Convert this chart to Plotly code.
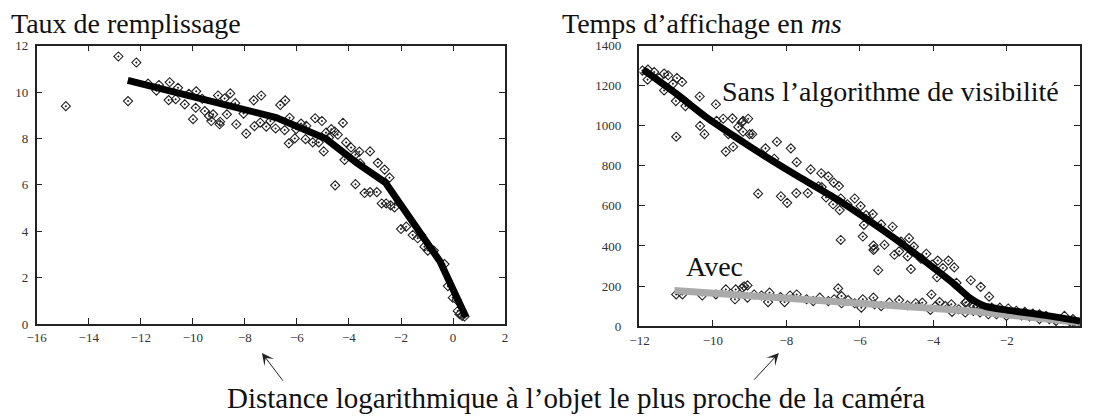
import plotly.graph_objects as go

# ---- Left chart: Taux de remplissage ----
fill_x = [-14.88, -12.86, -12.17, -12.49, -11.72, -11.40, -11.30, -10.89, -10.93, -10.66,
          -10.57, -10.31, -10.15, -9.99, -9.89, -9.87, -9.64, -9.54, -9.38, -9.29,
          -9.22, -9.03, -8.97, -8.95, -8.78, -8.69, -8.56, -8.37, -8.33, -8.05,
          -7.95, -7.66, -7.63, -7.41, -7.37, -7.18, -7.02, -6.82, -6.64, -6.45,
          -6.47, -6.31, -6.28, -6.08, -6.03, -5.84, -5.64, -5.67, -5.39, -5.30,
          -5.16, -5.04, -4.97, -4.88, -4.77, -4.68, -4.55, -4.43, -4.23, -4.53,
          -4.11, -4.17, -3.92, -3.75, -3.60, -3.57, -3.75, -3.40, -3.19, -3.19,
          -2.93, -2.89, -2.63, -2.44, -2.74, -2.57, -2.40, -2.25, -2.00, -1.80,
          -1.55, -1.23, -1.36, -1.10, -0.97, -0.74, -0.33, -0.20, -0.01, 0.14,
          0.18, 0.25, 0.35, 0.44]
fill_y = [9.39, 11.53, 11.27, 9.61, 10.36, 10.06, 10.30, 10.42, 9.65, 9.69,
          10.18, 9.47, 9.92, 8.83, 9.32, 10.03, 9.71, 9.18, 8.97, 8.75,
          9.04, 9.85, 8.61, 8.72, 9.72, 9.04, 9.94, 9.52, 8.61, 9.07,
          8.21, 9.64, 8.53, 8.68, 9.85, 8.51, 8.75, 8.43, 9.44, 9.64,
          8.36, 7.79, 8.89, 8.00, 8.40, 8.64, 8.54, 7.97, 7.83, 8.87,
          7.83, 8.75, 7.44, 8.25, 8.04, 8.40, 8.30, 8.16, 8.67, 5.98,
          7.83, 7.08, 7.61, 7.30, 7.43, 6.93, 6.03, 5.65, 7.44, 5.69,
          5.69, 6.95, 6.66, 6.31, 5.20, 5.20, 5.12, 5.03, 4.10, 4.20,
          3.84, 3.84, 3.70, 3.34, 3.17, 3.17, 2.59, 1.64, 1.14, 1.04,
          0.57, 0.43, 0.36, 0.33]
fill_line_x = [-12.5, -6.8, -4.9, -3.7, -2.6, -0.5, 0.5]
fill_line_y = [10.5, 8.9, 8.0, 6.95, 6.1, 2.7, 0.3]

# ---- Right chart: Temps d'affichage ----
sans_x = [-11.92, -11.77, -11.78, -11.60, -11.47, -11.33, -11.22, -11.33, -11.09, -10.98,
          -10.84, -11.01, -10.75, -11.00, -10.36, -10.35, -10.23, -9.92, -9.90, -9.72,
          -9.58, -9.65, -9.47, -9.45, -9.31, -9.22, -9.18, -9.18, -9.04, -9.00,
          -8.93, -8.57, -8.33, -8.26, -7.88, -7.72, -7.34, -7.05, -7.04, -6.86,
          -6.71, -6.57,
          -8.77, -8.15, -7.98, -7.73, -7.42, -7.13, -6.92, -6.73, -6.52, -6.55,
          -6.34, -6.14, -5.98, -5.89, -5.83, -5.65, -6.52, -5.92, -5.63, -5.50,
          -5.42, -5.11, -5.33, -5.06, -4.88, -4.66, -4.53, -4.61, -4.93, -4.70,
          -4.34, -4.19, -4.03, -3.88, -3.74, -3.59, -3.43, -3.90, -3.37, -2.98,
          -2.71, -2.48, -4.05, -3.83, -3.51, -3.10, -2.90,
          -3.13, -2.91, -2.68, -2.41, -2.19, -1.96, -1.74, -1.51, -1.29, -1.11,
          -0.93, -0.71, -0.20, -5.63, -5.60]
sans_y = [1275, 1280, 1230, 1268, 1238, 1260, 1252, 1176, 1209, 1238,
          1218, 1123, 1098, 945, 1146, 999, 958, 1107, 1024, 1035,
          958, 871, 1037, 895, 994, 1016, 1024, 970, 1035, 958,
          958, 887, 835, 920, 887, 818, 782, 763, 694, 747,
          716, 699,
          661, 648, 615, 664, 664, 698, 642, 608, 637, 579,
          608, 637, 599, 505, 554, 559, 430, 447, 402, 279,
          508, 496, 406, 356, 422, 439, 397, 285, 373, 348,
          336, 361, 307, 327, 290, 327, 293, 244, 216, 229,
          196, 147, 158, 120, 109, 120, 100,
          117, 100, 92, 92, 92, 88, 76, 71, 63, 59,
          51, 35, 35, 380, 385]
sans_line_x = [-11.9, -11.0, -10.2, -9.4, -8.6, -7.8, -6.6, -5.7, -5.0, -4.2, -3.5, -3.0, -2.6, -2.0, -1.0, 0.0]
sans_line_y = [1280, 1160, 1045, 945, 850, 760, 630, 520, 430, 320, 220, 140, 100, 80, 55, 25]

avec_x = [-11.00, -10.83, -10.29, -9.92, -9.65, -9.40, -9.38, -9.15, -9.06, -9.20,
          -9.06, -8.88, -8.68, -8.50, -8.46, -8.16, -8.05, -7.90, -7.72, -7.45,
          -7.27, -7.09, -6.86, -6.70, -6.59, -6.50, -6.50, -6.32, -6.14, -5.96,
          -5.92, -5.63, -5.60, -5.42, -5.20, -4.93, -4.70, -4.48, -4.30, -4.08,
          -3.94, -3.67, -3.49, -3.31, -3.13, -2.91, -2.73, -2.50, -2.28, -2.01,
          -1.83, -1.60, -1.38, -1.11, -0.84, -0.66, -0.43, -0.25, -0.16, -0.03]
avec_y = [158, 158, 153, 158, 183, 134, 183, 199, 203, 191,
          142, 158, 153, 120, 167, 145, 120, 153, 158, 134,
          125, 142, 125, 134, 188, 150, 114, 130, 114, 92,
          134, 142, 109, 100, 117, 130, 104, 114, 117, 81,
          100, 100, 71, 84, 68, 76, 68, 59, 59, 51,
          68, 54, 48, 35, 35, 26, 51, 18, 5, 2]
avec_line_x = [-11.05, -3.0, 0.0]
avec_line_y = [178, 76, 18]

left_xticks = [-16, -14, -12, -10, -8, -6, -4, -2, 0, 2]
left_yticks = [0, 2, 4, 6, 8, 10, 12]
right_xticks = [-12, -10, -8, -6, -4, -2]
right_yticks = [0, 200, 400, 600, 800, 1000, 1200, 1400]

title_left = "Taux de remplissage"
title_right = "Temps d’affichage en <i>ms</i>"
label_sans = "Sans l’algorithme de visibilité"
label_avec = "Avec"
label_bottom = "Distance logarithmique à l’objet le plus proche de la caméra"

W, H = 1103, 418
SERIF = "Liberation Serif, DejaVu Serif, serif"
FS = 28

marker = dict(symbol="diamond-open-dot", size=7, color="#222",
              line=dict(width=1.1, color="#222"))

fig = go.Figure()
fig.add_trace(go.Scatter(x=fill_x, y=fill_y, mode="markers", marker=marker,
                         xaxis="x", yaxis="y", showlegend=False))
fig.add_trace(go.Scatter(x=fill_line_x, y=fill_line_y, mode="lines",
                         line=dict(color="black", width=7),
                         xaxis="x", yaxis="y", showlegend=False))
fig.add_trace(go.Scatter(x=sans_x, y=sans_y, mode="markers", marker=marker,
                         xaxis="x2", yaxis="y2", showlegend=False))
fig.add_trace(go.Scatter(x=avec_x, y=avec_y, mode="markers", marker=marker,
                         xaxis="x2", yaxis="y2", showlegend=False))
fig.add_trace(go.Scatter(x=avec_line_x, y=avec_line_y, mode="lines",
                         line=dict(color="#aaaaaa", width=7),
                         xaxis="x2", yaxis="y2", showlegend=False))
fig.add_trace(go.Scatter(x=sans_line_x, y=sans_line_y, mode="lines",
                         line=dict(color="black", width=7, shape="spline", smoothing=0.6),
                         xaxis="x2", yaxis="y2", showlegend=False))

axis_common = dict(showgrid=False, zeroline=False, showline=True, linecolor="#222",
                   linewidth=1.5, mirror="ticks", ticks="inside", ticklen=6,
                   tickwidth=1.2, tickcolor="#222",
                   tickfont=dict(family=SERIF, size=13, color="#333"))


def px_x(p):
    return p / W


def px_y(p):
    return 1 - p / H


fig.update_layout(
    width=W, height=H,
    margin=dict(l=0, r=0, t=0, b=0),
    paper_bgcolor="white", plot_bgcolor="white",
    xaxis=dict(axis_common, domain=[px_x(27), px_x(501)], range=[-16, 2],
               tickvals=left_xticks, anchor="y"),
    yaxis=dict(axis_common, domain=[px_y(329), px_y(40)], range=[0, 12],
               tickvals=left_yticks, anchor="x", ticklabelstandoff=4),
    xaxis2=dict(axis_common, domain=[px_x(637), px_x(1083)], range=[-12, 0],
                tickvals=right_xticks, anchor="y2", ticklabelstandoff=2),
    yaxis2=dict(axis_common, domain=[px_y(331), px_y(40)], range=[0, 1400],
                tickvals=right_yticks, anchor="x2", ticklabelstandoff=14),
    annotations=[
        dict(text=title_left, xref="paper", yref="paper", x=px_x(0), y=px_y(0),
             xanchor="left", yanchor="top", showarrow=False, borderpad=0,
             font=dict(family=SERIF, size=FS, color="#111")),
        dict(text=title_right, xref="paper", yref="paper", x=px_x(558), y=px_y(0),
             xanchor="left", yanchor="top", showarrow=False, borderpad=0,
             font=dict(family=SERIF, size=FS, color="#111")),
        dict(text=label_sans, xref="paper", yref="paper", x=px_x(891), y=px_y(70),
             xanchor="center", yanchor="top", showarrow=False,
             font=dict(family=SERIF, size=FS, color="#111")),
        dict(text=label_avec, xref="paper", yref="paper", x=px_x(713), y=px_y(251),
             xanchor="center", yanchor="top", showarrow=False,
             font=dict(family=SERIF, size=FS, color="#111")),
        dict(text=label_bottom, xref="paper", yref="paper", x=px_x(573), y=px_y(418),
             xanchor="center", yanchor="bottom", showarrow=False, borderpad=0,
             yshift=-5, font=dict(family=SERIF, size=29, color="#111")),
        dict(text="", xref="paper", yref="paper", x=px_x(255), y=px_y(359),
             showarrow=True, ax=22, ay=29, arrowhead=3, arrowsize=2,
             arrowwidth=1, arrowcolor="#222", font=dict(size=1)),
        dict(text="", xref="paper", yref="paper", x=px_x(778), y=px_y(359),
             showarrow=True, ax=-26, ay=28, arrowhead=3, arrowsize=2,
             arrowwidth=1, arrowcolor="#222", font=dict(size=1)),
    ],
)

# remove the browser's default 8px body margin so the figure sits at (0, 0)
fig.write_html("out.html", config={"displayModeBar": False},
               post_script="document.body.style.margin='0px';")
